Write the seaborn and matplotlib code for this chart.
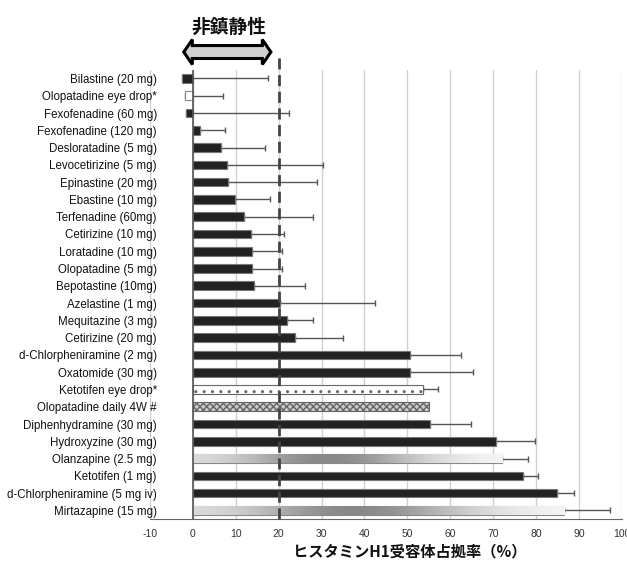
import numpy as np
import matplotlib
matplotlib.use("Agg")
import matplotlib.pyplot as plt
import matplotlib.transforms as mtransforms
from matplotlib.patches import Polygon
import seaborn as sns

# H1 receptor occupancy (%), top to bottom
drugs = ["Bilastine (20 mg)", "Olopatadine eye drop*", "Fexofenadine (60 mg)",
         "Fexofenadine (120 mg)", "Desloratadine (5 mg)", "Levocetirizine (5 mg)",
         "Epinastine (20 mg)", "Ebastine (10 mg)", "Terfenadine (60mg)",
         "Cetirizine (10 mg)", "Loratadine (10 mg)", "Olopatadine (5 mg)",
         "Bepotastine (10mg)", "Azelastine (1 mg)", "Mequitazine (3 mg)",
         "Cetirizine (20 mg)", "d-Chlorpheniramine (2 mg)", "Oxatomide (30 mg)",
         "Ketotifen eye drop*", "Olopatadine daily 4W #", "Diphenhydramine (30 mg)",
         "Hydroxyzine (30 mg)", "Olanzapine (2.5 mg)", "Ketotifen (1 mg)",
         "d-Chlorpheniramine (5 mg iv)", "Mirtazapine (15 mg)"]
occupancy = [-2.6, -1.9, -1.6, 1.6, 6.5, 8.0, 8.2, 9.9, 12.0, 13.5, 13.8, 13.9, 14.3,
             20.3, 21.9, 23.8, 50.5, 50.5, 53.6, 55.0, 55.3, 70.6, 72.0, 76.9, 84.9, 86.5]
upper = [17.6, 7.1, 22.5, 7.6, 16.8, 30.4, 29.0, 17.9, 27.9, 21.3, 20.7, 20.9, 26.2,
         42.4, 27.9, 34.9, 62.5, 65.4, 57.2, np.nan, 64.9, 79.7, 78.1, 80.4, 88.9, 97.2]
xticks = list(range(-10, 101, 10))

sns.set_style("white")
plt.rcParams['font.family'] = ['Liberation Sans', 'Noto Sans CJK JP']

fig = plt.figure(figsize=(6.27, 5.63), dpi=100)
ax = fig.add_axes([0.239, 0.078, 0.753, 0.798])

sns.barplot(x=occupancy, y=drugs, orient="h", color="#222222", width=0.5,
            edgecolor="#777777", linewidth=0.8, ax=ax, zorder=3)

special = {"Olopatadine eye drop*": "open", "Ketotifen eye drop*": "dots",
           "Olopatadine daily 4W #": "checker", "Olanzapine (2.5 mg)": "gradient",
           "Mirtazapine (15 mg)": "gradient"}
grad = np.array([[0.85, 0.78, 0.66, 0.55, 0.52, 0.58, 0.7, 0.82, 0.9, 0.95]])
for patch, name in zip(ax.patches, drugs):
    kind = special.get(name)
    if kind == "open":
        patch.set_facecolor("white")
        patch.set_edgecolor("#888888")
    elif kind == "dots":
        patch.set_facecolor("white")
        patch.set_edgecolor("#666666")
        patch.set_hatch("..")
    elif kind == "checker":
        patch.set_facecolor("#cccccc")
        patch.set_edgecolor("#666666")
        patch.set_hatch("xxxxx")
    elif kind == "gradient":
        patch.set_facecolor("#bbbbbb")
        patch.set_edgecolor("#888888")
        x0, y0 = patch.get_x(), patch.get_y()
        w, h = patch.get_width(), patch.get_height()
        im = ax.imshow(grad, cmap="gray", vmin=0, vmax=1, aspect="auto",
                       extent=[x0, x0 + w, y0 + h, y0], zorder=3.5,
                       interpolation="bicubic")
        im.set_clip_path(patch)

# one-sided error bars
ypos = np.arange(len(drugs))
occ = np.array(occupancy)
up = np.array(upper)
ok = ~np.isnan(up)
ax.errorbar(occ[ok], ypos[ok], xerr=[np.zeros(ok.sum()), up[ok] - occ[ok]],
            fmt="none", ecolor="#555555", elinewidth=1, capsize=2, capthick=1,
            zorder=2.5)

ax.set_xlim(-10, 100)
ax.set_ylim(len(drugs) - 0.5, -0.5)
ax.set_xticks(xticks)
ax.set_xticklabels([str(t) for t in xticks], fontsize=7.5, color="#333333")
ax.tick_params(axis="x", length=3, color="#666666", pad=4)
ax.tick_params(axis="y", length=0, labelsize=8.3, pad=-5)
for lbl in ax.get_yticklabels():
    lbl.set_color("#111111")
ax.grid(axis="x", color="#d0d0d0", lw=1, zorder=0)
ax.set_axisbelow(True)
for s in ["top", "right", "left"]:
    ax.spines[s].set_visible(False)
ax.spines["bottom"].set_color("#666666")
ax.axvline(0, color="#555555", lw=1.2, zorder=4)
ax.set_ylabel("")
ax.set_xlabel("")
fig.text(0.654, 0.02, "ヒスタミンH1受容体占拠率（%）", ha="center", va="center",
         family=["Noto Sans CJK JP"], fontsize=11, fontweight="bold", color="#111111")

# threshold line at 20 %, running above the plot
ax.axvline(20, ymin=0, ymax=1.038, color="#444444", lw=2, ls=(0, (4, 2)),
           clip_on=False, zorder=5)

# non-sedative double arrow and title
tr = mtransforms.blended_transform_factory(ax.transData, fig.transFigure)
yc, hh, sh, hl = 0.9076, 0.0222, 0.0115, 2.0
xl, xr = -2.1, 18.2
pts = [(xl, yc), (xl + hl, yc + hh), (xl + hl, yc + sh), (xr - hl, yc + sh),
       (xr - hl, yc + hh), (xr, yc), (xr - hl, yc - hh), (xr - hl, yc - sh),
       (xl + hl, yc - sh), (xl + hl, yc - hh)]
ax.add_patch(Polygon(pts, closed=True, transform=tr, facecolor="#d0d0d0",
                     edgecolor="black", lw=2.2, clip_on=False, zorder=6))
ax.text(8.4, 0.951, "非鎮静性", transform=tr, ha="center", va="center",
        family=["Noto Sans CJK JP"], fontsize=13.5, fontweight="bold", color="#111111")

fig.savefig("out.png", dpi=100)
